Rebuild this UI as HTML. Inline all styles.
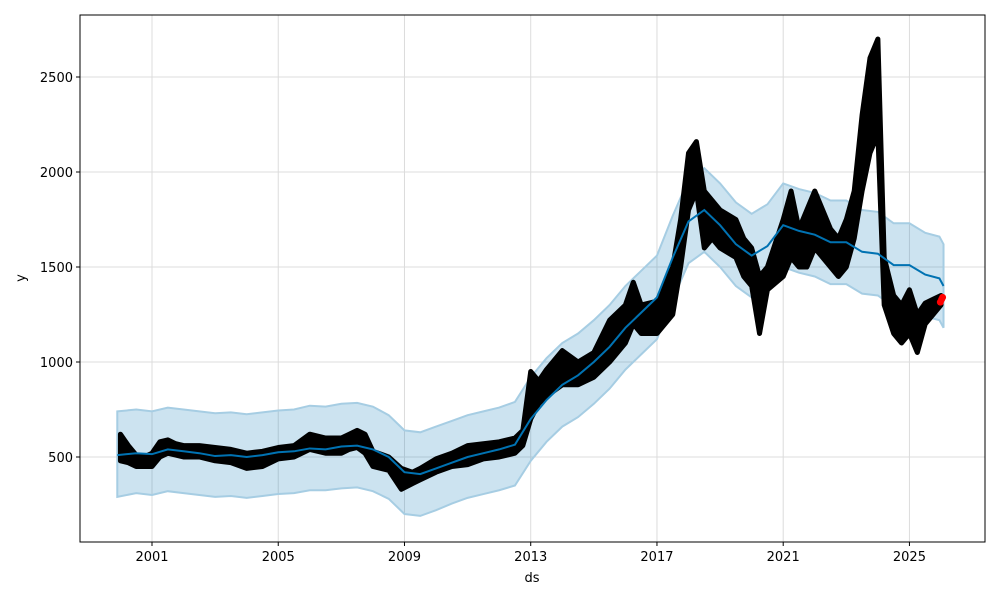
<!DOCTYPE html>
<html><head><meta charset="utf-8"><style>
body{margin:0;background:#fff}
svg{display:block;font-family:"DejaVu Sans","Liberation Sans",sans-serif}
</style></head><body>
<svg id="chart" width="1000" height="600" viewBox="0 0 1000 600" xmlns="http://www.w3.org/2000/svg">
<rect x="0" y="0" width="1000" height="600" fill="#fff"/>
<g id="grid"></g>
<g id="band"></g>
<g id="obs"></g>
<g id="line"></g>
<g id="axes"></g>
<text x="532" y="582" font-size="13" text-anchor="middle">ds</text>
<text x="25" y="278" font-size="13" text-anchor="middle" transform="rotate(-90 25 278)">y</text>
</svg>
<script>
const xTicks=[2001,2005,2009,2013,2017,2021,2025];
const yTicks=[500,1000,1500,2000,2500];
const fcT=[1999.9,2000.5,2001,2001.5,2002,2002.5,2003,2003.5,2004,2004.5,2005,2005.5,2006,2006.5,2007,2007.5,2008,2008.5,2009,2009.5,2010,2010.5,2011,2011.5,2012,2012.5,2013,2013.5,2014,2014.5,2015,2015.5,2016,2016.5,2017,2017.5,2018,2018.5,2019,2019.5,2020,2020.5,2021,2021.5,2022,2022.5,2023,2023.5,2024,2024.5,2025,2025.5,2025.95,2026.08];
const yhat=[510,520,515,540,530,520,505,510,500,510,525,530,545,540,555,560,540,500,420,410,440,470,500,520,540,565,700,800,880,930,1000,1080,1180,1260,1340,1550,1740,1800,1720,1620,1560,1610,1720,1690,1670,1630,1630,1580,1570,1510,1510,1460,1440,1400];
const yLower=[290,310,300,320,310,300,290,295,285,295,305,310,325,325,335,340,320,280,200,190,220,255,285,305,325,350,480,580,660,710,780,860,960,1040,1120,1330,1520,1580,1500,1400,1340,1390,1500,1470,1450,1410,1410,1360,1350,1290,1290,1240,1220,1180];
const yUpper=[740,750,740,760,750,740,730,735,725,735,745,750,770,765,780,785,765,720,640,630,660,690,720,740,760,790,920,1020,1100,1150,1220,1300,1400,1480,1560,1770,1960,2020,1940,1840,1780,1830,1940,1910,1890,1850,1850,1800,1790,1730,1730,1680,1660,1620];
const obsT=[2000.0,2000.25,2000.5,2000.75,2001,2001.25,2001.5,2001.75,2002,2002.5,2003,2003.5,2004,2004.5,2005,2005.5,2006,2006.5,2007,2007.25,2007.5,2007.75,2008,2008.5,2008.9,2009.25,2009.5,2010,2010.5,2011,2011.5,2012,2012.5,2012.75,2013,2013.25,2013.5,2014,2014.5,2015,2015.5,2016,2016.25,2016.5,2017,2017.5,2017.75,2018,2018.25,2018.5,2018.75,2019,2019.5,2019.75,2020,2020.25,2020.5,2021,2021.25,2021.5,2021.75,2022,2022.5,2022.75,2023,2023.25,2023.5,2023.75,2024,2024.2,2024.5,2024.75,2025,2025.25,2025.5,2025.75,2026.0];
const obsLow=[480,470,450,450,450,500,520,510,500,500,480,470,440,450,490,500,540,520,520,540,550,520,450,430,330,360,380,420,450,460,490,500,520,560,700,780,820,880,880,920,1000,1100,1200,1150,1150,1250,1500,1800,1900,1600,1650,1600,1550,1450,1400,1150,1380,1450,1550,1500,1500,1600,1500,1450,1500,1650,1900,2100,2200,1300,1150,1100,1150,1050,1200,1250,1300];
const obsHigh=[620,560,510,500,520,580,590,570,560,560,550,540,520,530,550,560,620,600,600,620,640,620,530,500,440,420,440,490,520,560,570,580,600,640,950,900,960,1060,1000,1050,1220,1300,1420,1300,1320,1500,1750,2100,2160,1900,1850,1800,1750,1650,1600,1450,1500,1750,1900,1700,1800,1900,1700,1650,1750,1900,2300,2600,2700,1550,1350,1300,1380,1250,1310,1330,1350];
const futT=[2025.98,2026.02,2026.05];
const futY=[1315,1330,1340];

const X=t=>152+(t-2001)*31.56, Y=v=>552-v*0.19;
const NS='http://www.w3.org/2000/svg';
function mk(tag,p,parent){const e=document.createElementNS(NS,tag);for(const k in p)e.setAttribute(k,p[k]);parent.appendChild(e);return e;}
const grid=document.getElementById('grid'),axes=document.getElementById('axes');
xTicks.forEach(t=>{
 const l=mk('line',{x1:X(t),x2:X(t),y1:15,y2:542,stroke:'#dcdcdc','stroke-width':1},grid);
 
 
 const tk=mk('line',{x1:X(t),x2:X(t),y1:542,y2:546,stroke:'#000'},axes);
 
 
 const tx=mk('text',{x:X(t),y:561,'font-size':13,'text-anchor':'middle'},axes);tx.textContent=t;
 
 
});
yTicks.forEach(v=>{
 const l=mk('line',{x1:80,x2:985,y1:Y(v),y2:Y(v),stroke:'#dcdcdc','stroke-width':1},grid);
 
 
 const tk=mk('line',{x1:76,x2:80,y1:Y(v),y2:Y(v),stroke:'#000'},axes);
 
 
 const tx=mk('text',{x:73,y:Y(v)+5,'font-size':13,'text-anchor':'end'},axes);tx.textContent=v;
 
 
});
const fr=mk('rect',{x:80,y:15,width:905,height:527,fill:'none',stroke:'#000','stroke-width':1},axes);


let bp=fcT.map((t,i)=>X(t)+','+Y(yUpper[i])).join(' ')+' '+fcT.map((t,i)=>X(t)+','+Y(yLower[i])).reverse().join(' ');
const band=mk('polygon',{points:bp,fill:'#0072B2','fill-opacity':0.2,stroke:'#a6cde3','stroke-width':2},document.getElementById('band'));


const og=document.getElementById('obs');
let op=obsT.map((t,i)=>X(t)+','+Y(obsHigh[i])).join(' ')+' '+obsT.map((t,i)=>X(t)+','+Y(obsLow[i])).reverse().join(' ');
const ob=mk('polygon',{points:op,fill:'#000',stroke:'#000','stroke-width':5,'stroke-linejoin':'round'},og);


futT.forEach((t,i)=>{
 const c=mk('circle',{cx:X(t),cy:Y(futY[i]),r:3.5,fill:'#ff0000'},og);
 
 
});
const ln=mk('polyline',{points:fcT.map((t,i)=>X(t)+','+Y(yhat[i])).join(' '),fill:'none',stroke:'#0072B2','stroke-width':2},document.getElementById('line'));


</script>
</body></html>
